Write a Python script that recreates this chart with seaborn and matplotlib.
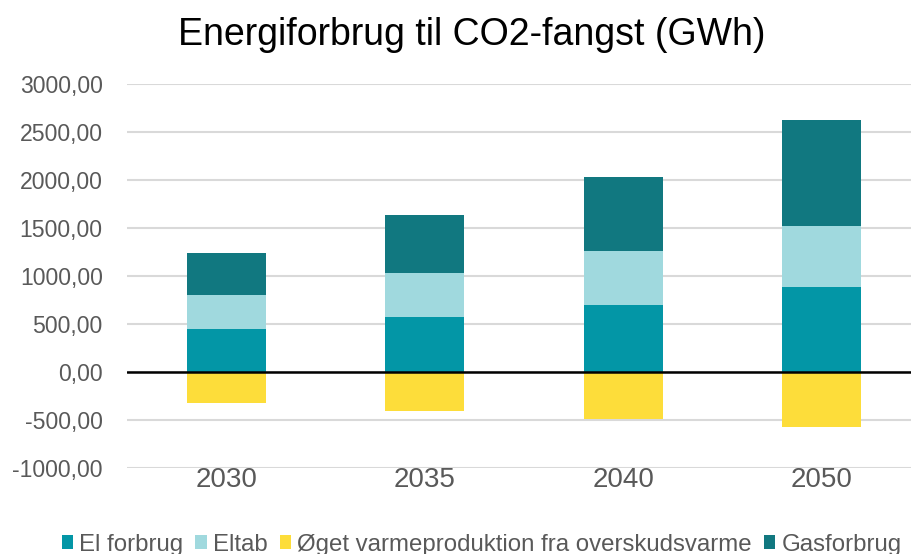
import numpy as np
import matplotlib.pyplot as plt
import seaborn as sns
from matplotlib.patches import Patch
from matplotlib.ticker import FuncFormatter

years = ['2030', '2035', '2040', '2050']
el_forbrug = [445, 573, 698, 889]
eltab = [360, 455, 559, 635]
varme = [-326, -409, -493, -570]
gasforbrug = [438, 604, 771, 1101]

labels = ['El forbrug', 'Eltab', 'Øget varmeproduktion fra overskudsvarme', 'Gasforbrug']
colors = ['#0396A6', '#A0D9DE', '#FDDD3A', '#117880']

sns.set_style('white')
plt.rcParams['font.family'] = ['Liberation Sans', 'DejaVu Sans']

fig = plt.figure(figsize=(9.11, 5.54), dpi=100)
ax = fig.add_axes([127 / 911, 86 / 554, 794 / 911, 384 / 554])

# stack by drawing cumulative totals, tallest first
lvl1 = np.array(el_forbrug)
lvl2 = lvl1 + np.array(eltab)
lvl3 = lvl2 + np.array(gasforbrug)
for vals, c in [(lvl3, colors[3]), (lvl2, colors[1]), (lvl1, colors[0]), (varme, colors[2])]:
    sns.barplot(x=years, y=vals, color=c, width=0.4, ax=ax, zorder=3,
                saturation=1, linewidth=0)

ax.set_ylim(-1000, 3000)
ax.set_xlim(-0.5, 3.5)
ax.set_yticks(np.arange(-1000, 3001, 500))
ax.yaxis.set_major_formatter(FuncFormatter(lambda v, p: f'{v:.2f}'.replace('.', ',')))
ax.grid(axis='y', color='#D9D9D9', linewidth=1.5, zorder=0)
ax.axhline(0, color='black', linewidth=1.8, zorder=4)
for s in ax.spines.values():
    s.set_visible(False)
ax.tick_params(axis='y', labelsize=16.6, labelcolor='#595959', length=0, pad=17.5)
ax.tick_params(axis='x', labelsize=20, labelcolor='#595959', length=0, pad=-1)
ax.set_xlabel('')
ax.set_ylabel('')

fig.text(0.518, 1 - 35 / 554, 'Energiforbrug til CO2-fangst (GWh)', fontsize=27,
         ha='center', va='center', color='black')

handles = [Patch(facecolor=c, edgecolor='none') for c in colors]
fig.legend(handles, labels, loc='lower center', bbox_to_anchor=(0.5285, -0.042), ncol=4,
           frameon=False, fontsize=17.3, labelcolor='#595959', handlelength=0.48,
           handleheight=0.48, handletextpad=0.25, columnspacing=0.5)

fig.savefig('out.png', dpi=100)
